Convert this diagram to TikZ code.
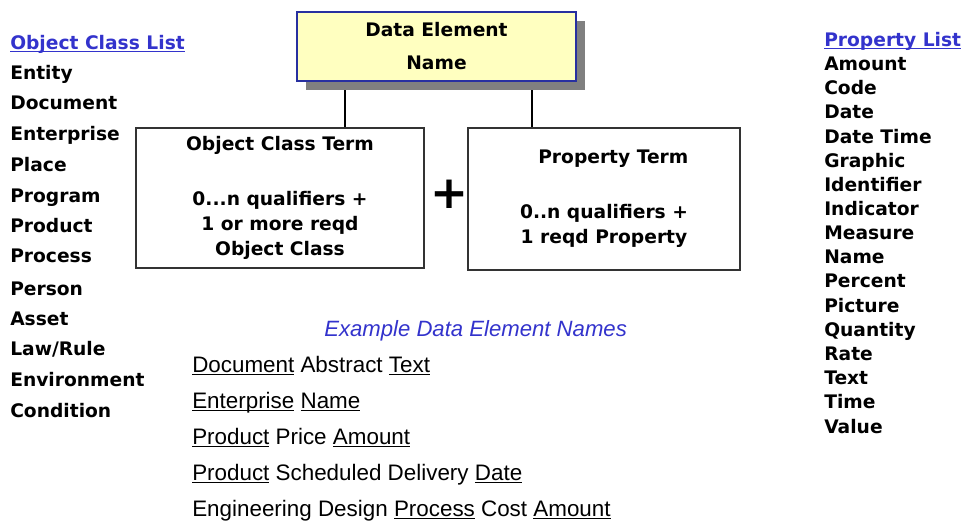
\documentclass[tikz,border=0pt]{standalone}
\usepackage{fontspec}
\setmainfont{Liberation Sans}
\newfontfamily\listfont{DejaVu Sans}
\usetikzlibrary{shadows}
\definecolor{listblue}{RGB}{51,51,204}
\definecolor{boxyellow}{RGB}{255,255,192}
\definecolor{boxblue}{RGB}{40,48,160}
\newcommand{\ulterm}[1]{\leavevmode\setbox0=\hbox{#1}\rlap{\rule[-2.4pt]{\wd0}{0.8pt}}\box0\relax}

\begin{document}
\begin{tikzpicture}[x=0.75pt, y=-0.75pt,
    listitem/.style={anchor=base west, inner sep=0pt, font=\listfont\bfseries\fontsize{14}{17}\selectfont},
    listhead/.style={listitem, text=listblue},
    termbox/.style={draw=black!80, line width=1.1pt, inner sep=0pt, align=center,
      font=\listfont\bfseries\fontsize{14}{18.75}\selectfont},
    debox/.style={draw=boxblue, fill=boxyellow, line width=1.1pt, inner sep=0pt, align=center,
      minimum width=209.25pt, minimum height=51.75pt,
      font=\listfont\bfseries\fontsize{14}{24.75}\selectfont,
      drop shadow={shadow xshift=6.75pt, shadow yshift=-6.75pt, fill=black!50, opacity=1}},
    example/.style={anchor=base west, inner sep=0pt, font=\fontsize{16.8}{20}\selectfont}]
  \useasboundingbox (0,0) rectangle (967,521);

  \coordinate (ocjoin) at (345,85);
  \coordinate (ptjoin) at (532,85);
  \node[termbox, minimum width=216pt, minimum height=105pt] (octerm) at (280,198)
    {Object Class Term\\[22.5pt]0...n qualifiers +\\1 or more reqd\\Object Class};
  \node[termbox, minimum width=204pt, minimum height=106.5pt] (pterm) at (604,199)
    {\hspace*{14pt}Property Term\\[22.5pt]0..n qualifiers +\\1 reqd Property};
  \begin{scope}[line width=1.5pt]
    \draw (ocjoin) -- (ocjoin |- octerm.north);
    \draw (ptjoin) -- (ptjoin |- pterm.north);
  \end{scope}
  \node[debox] (dename) at (436.5,46.5) {Data Element\\Name};
  \node[inner sep=0pt, font=\listfont\bfseries\fontsize{34}{34}\selectfont] (plus) at (449,194) {+};

  \path
    (10,49) node[listhead] (oclist) {\ulterm{Object Class List}}
    (10,79) node[listitem] (entity) {Entity}
    (10,109) node[listitem] (document) {Document}
    (10,140) node[listitem] (enterprise) {Enterprise}
    (10,171) node[listitem] (place) {Place}
    (10,202) node[listitem] (program) {Program}
    (10,232) node[listitem] (product) {Product}
    (10,262) node[listitem] (process) {Process}
    (10,295) node[listitem] (person) {Person}
    (10,325) node[listitem] (asset) {Asset}
    (10,355) node[listitem] (lawrule) {Law/Rule}
    (10,386) node[listitem] (environment) {Environment}
    (10,417) node[listitem] (condition) {Condition};

  \path
    (824,46) node[listhead] (proplist) {\ulterm{Property List}}
    (824,70) node[listitem] (amount) {Amount}
    (824,94) node[listitem] (code) {Code}
    (824,118) node[listitem] (date) {Date}
    (824,143) node[listitem] (datetime) {Date Time}
    (824,167) node[listitem] (graphic) {Graphic}
    (824,191) node[listitem] (identifier) {Identifier}
    (824,215) node[listitem] (indicator) {Indicator}
    (824,239) node[listitem] (measure) {Measure}
    (824,263) node[listitem] (name) {Name}
    (824,287) node[listitem] (percent) {Percent}
    (824,312) node[listitem] (picture) {Picture}
    (824,336) node[listitem] (quantity) {Quantity}
    (824,360) node[listitem] (rate) {Rate}
    (824,384) node[listitem] (text) {Text}
    (824,408) node[listitem] (time) {Time}
    (824,433) node[listitem] (value) {Value};

  \path
    (324,336) node[example, text=listblue, font=\itshape\fontsize{16.6}{20}\selectfont] (exhead) {Example Data Element Names}
    (192,372) node[example] (ex1) {\ulterm{Document} Abstract \ulterm{Text}}
    (192,408) node[example] (ex2) {\ulterm{Enterprise} \ulterm{Name}}
    (192,444) node[example] (ex3) {\ulterm{Product} Price \ulterm{Amount}}
    (192,480) node[example] (ex4) {\ulterm{Product} Scheduled Delivery \ulterm{Date}}
    (192,516) node[example] (ex5) {Engineering Design \ulterm{Process} Cost \ulterm{Amount}};
\end{tikzpicture}
\end{document}
